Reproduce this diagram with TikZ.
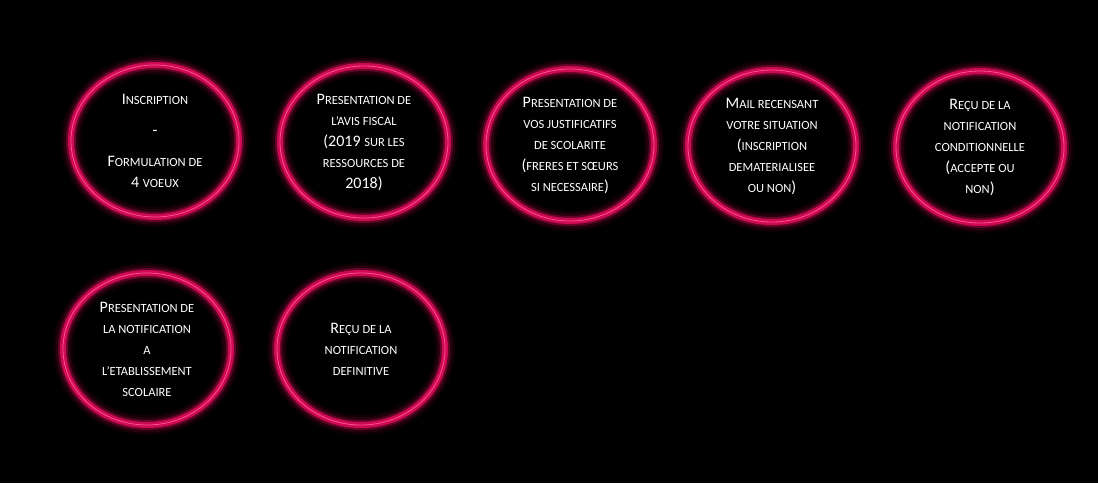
\documentclass[tikz,border=0pt]{standalone}
\usepackage{fontspec}
\setmainfont{Carlito}
\usetikzlibrary{shapes.geometric}
\definecolor{pk}{RGB}{205,10,82}
\definecolor{lpk}{RGB}{255,80,145}
\newcommand\sm[1]{{\fontsize{12.5}{21}\selectfont #1}}
\tikzset{
  ring/.style={ellipse, minimum width=168pt, minimum height=152pt, inner sep=0pt,
    text=white, align=center, font=\fontsize{16}{21}\selectfont,
    preaction={draw=pk, line width=20pt, draw opacity=0.07},
    preaction={draw=pk, line width=15pt, draw opacity=0.14},
    preaction={draw=pk, line width=10pt, draw opacity=0.35},
    preaction={draw=pk, line width=6pt},
    draw=lpk, line width=0.8pt}
}
\begin{document}
\begin{tikzpicture}[x=1pt,y=-1pt]
\fill[black] (0,0) rectangle (1098,483);
\useasboundingbox (0,0) rectangle (1098,483);
\node[ring] (n1) at (155,141) {I\sm{NSCRIPTION}\\[10pt] -\\[10pt] F\sm{ORMULATION DE}\\ 4 \sm{VOEUX}};
\node[ring] (n2) at (364,142) {P\sm{RESENTATION DE}\\ \sm{L’AVIS FISCAL}\\ (2019 \sm{SUR LES}\\ \sm{RESSOURCES DE}\\ 2018)};
\node[ring] (n3) at (570,145) {P\sm{RESENTATION DE}\\ \sm{VOS JUSTIFICATIFS}\\ \sm{DE SCOLARITE}\\ (\sm{FRERES ET SŒURS}\\ \sm{SI NECESSAIRE})};
\node[ring] (n4) at (772,146) {M\sm{AIL RECENSANT}\\ \sm{VOTRE SITUATION}\\ (\sm{INSCRIPTION}\\ \sm{DEMATERIALISEE}\\ \sm{OU NON})};
\node[ring] (n5) at (980,147) {R\sm{EÇU DE LA}\\ \sm{NOTIFICATION}\\ \sm{CONDITIONNELLE}\\ (\sm{ACCEPTE OU}\\ \sm{NON})};
\node[ring] (n6) at (147,349) {P\sm{RESENTATION DE}\\ \sm{LA NOTIFICATION}\\ \sm{A}\\ \sm{L’ETABLISSEMENT}\\ \sm{SCOLAIRE}};
\node[ring] (n7) at (361,349) {R\sm{EÇU DE LA}\\ \sm{NOTIFICATION}\\ \sm{DEFINITIVE}};
\end{tikzpicture}
\end{document}
